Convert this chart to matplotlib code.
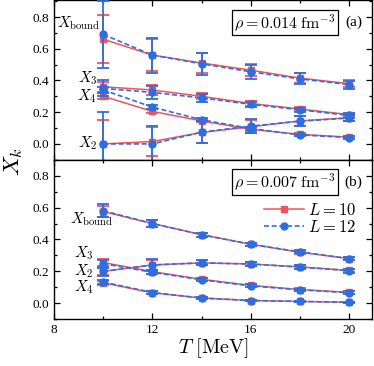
import matplotlib
matplotlib.use("Agg")
import matplotlib.pyplot as plt
from matplotlib.ticker import MultipleLocator

plt.rcParams['font.family'] = ['Liberation Serif', 'DejaVu Serif']
plt.rcParams['mathtext.fontset'] = 'cm'

T = [10, 12, 14, 16, 18, 20]

# panel (a): rho = 0.014 fm^-3
a_bound_10 = [0.66, 0.56, 0.51, 0.465, 0.415, 0.38]
a_bound_10_err = [0.15, 0.10, 0.06, 0.04, 0.03, 0.02]
a_bound_12 = [0.69, 0.56, 0.505, 0.455, 0.41, 0.374]
a_bound_12_err = [0.21, 0.11, 0.07, 0.045, 0.035, 0.025]
a_x3_10 = [0.36, 0.34, 0.30, 0.255, 0.22, 0.185]
a_x3_10_err = [0.03, 0.03, 0.02, 0.015, 0.012, 0.012]
a_x3_12 = [0.35, 0.325, 0.29, 0.25, 0.215, 0.18]
a_x3_12_err = [0.05, 0.04, 0.025, 0.015, 0.012, 0.015]
a_x4_10 = [0.30, 0.205, 0.145, 0.092, 0.06, 0.043]
a_x4_10_err = [0.02, 0.012, 0.01, 0.01, 0.008, 0.008]
a_x4_12 = [0.34, 0.232, 0.152, 0.097, 0.057, 0.04]
a_x4_12_err = [0.02, 0.012, 0.01, 0.01, 0.008, 0.008]
a_x2_10 = [0.0, 0.015, 0.072, 0.108, 0.145, 0.165]
a_x2_10_err = [0.15, 0.09, 0.065, 0.04, 0.03, 0.02]
a_x2_12 = [0.0, 0.0, 0.074, 0.112, 0.143, 0.163]
a_x2_12_err = [0.20, 0.11, 0.07, 0.045, 0.03, 0.02]

# panel (b): rho = 0.007 fm^-3
b_bound_10 = [0.575, 0.50, 0.43, 0.37, 0.32, 0.28]
b_bound_10_err = [0.035, 0.02, 0.012, 0.01, 0.01, 0.01]
b_bound_12 = [0.58, 0.50, 0.43, 0.37, 0.322, 0.28]
b_bound_12_err = [0.04, 0.022, 0.012, 0.01, 0.01, 0.01]
b_x3_10 = [0.255, 0.198, 0.15, 0.112, 0.086, 0.068]
b_x3_10_err = [0.02, 0.012, 0.01, 0.01, 0.008, 0.008]
b_x3_12 = [0.248, 0.194, 0.147, 0.109, 0.084, 0.066]
b_x3_12_err = [0.025, 0.012, 0.01, 0.01, 0.008, 0.008]
b_x2_10 = [0.20, 0.24, 0.253, 0.246, 0.228, 0.206]
b_x2_10_err = [0.02, 0.03, 0.015, 0.012, 0.012, 0.01]
b_x2_12 = [0.20, 0.24, 0.253, 0.246, 0.227, 0.204]
b_x2_12_err = [0.03, 0.035, 0.015, 0.012, 0.012, 0.012]
b_x4_10 = [0.128, 0.065, 0.033, 0.017, 0.011, 0.006]
b_x4_10_err = [0.012, 0.01, 0.006, 0.005, 0.004, 0.004]
b_x4_12 = [0.133, 0.067, 0.032, 0.017, 0.011, 0.006]
b_x4_12_err = [0.012, 0.01, 0.006, 0.005, 0.004, 0.004]

red = '#f2535b'
blue = '#2d6fe0'

fig, (ax1, ax2) = plt.subplots(2, 1, sharex=True, figsize=(3.74, 3.66), dpi=100)
fig.subplots_adjust(left=0.145, right=0.995, top=0.999, bottom=0.128, hspace=0)


def pair(ax, y10, e10, y12, e12):
  r = ax.errorbar(T, y10, yerr=e10, color=red, marker='s', ms=4, lw=1.1,
                  elinewidth=1.3, capsize=4.5, capthick=1.3, zorder=2)
  b = ax.errorbar(T, y12, yerr=e12, color=blue, marker='o', ms=5, lw=1.2,
                  ls=(0, (3, 1.6)), elinewidth=1.3, capsize=4.5, capthick=1.3,
                  zorder=3)
  return r, b


pair(ax1, a_bound_10, a_bound_10_err, a_bound_12, a_bound_12_err)
pair(ax1, a_x3_10, a_x3_10_err, a_x3_12, a_x3_12_err)
pair(ax1, a_x4_10, a_x4_10_err, a_x4_12, a_x4_12_err)
pair(ax1, a_x2_10, a_x2_10_err, a_x2_12, a_x2_12_err)

pair(ax2, b_bound_10, b_bound_10_err, b_bound_12, b_bound_12_err)
pair(ax2, b_x3_10, b_x3_10_err, b_x3_12, b_x3_12_err)
pair(ax2, b_x2_10, b_x2_10_err, b_x2_12, b_x2_12_err)
r, b = pair(ax2, b_x4_10, b_x4_10_err, b_x4_12, b_x4_12_err)

lab = 11
ax1.text(9.9, 0.76, r'$X_{\rm bound}$', fontsize=lab, ha='right', va='center')
ax1.text(9.75, 0.415, r'$X_3$', fontsize=lab, ha='right', va='center')
ax1.text(9.75, 0.30, r'$X_4$', fontsize=lab, ha='right', va='center')
ax1.text(9.75, 0.005, r'$X_2$', fontsize=lab, ha='right', va='center')

ax2.text(10.4, 0.525, r'$X_{\rm bound}$', fontsize=lab, ha='right', va='center')
ax2.text(9.6, 0.315, r'$X_3$', fontsize=lab, ha='right', va='center')
ax2.text(9.6, 0.20, r'$X_2$', fontsize=lab, ha='right', va='center')
ax2.text(9.6, 0.10, r'$X_4$', fontsize=lab, ha='right', va='center')

box = dict(boxstyle='square,pad=0.15', fc='white', ec='black', lw=0.9)
ax1.text(0.885, 0.86, r'$\rho=0.014\;\mathrm{fm}^{-3}$', transform=ax1.transAxes,
         fontsize=11.5, ha='right', va='center', bbox=box)
ax1.text(0.97, 0.86, '(a)', transform=ax1.transAxes, fontsize=11,
         ha='right', va='center')
ax2.text(0.885, 0.86, r'$\rho=0.007\;\mathrm{fm}^{-3}$', transform=ax2.transAxes,
         fontsize=11.5, ha='right', va='center', bbox=box)
ax2.text(0.97, 0.86, '(b)', transform=ax2.transAxes, fontsize=11,
         ha='right', va='center')

ax2.legend([r[0], b[0]], [r'$L=10$', r'$L=12$'], loc='upper right',
           bbox_to_anchor=(0.97, 0.77), frameon=False, fontsize=12,
           handlelength=2.4, handletextpad=0.2, labelspacing=0.05,
           borderaxespad=0)

for ax in (ax1, ax2):
  ax.set_xlim(8, 20.95)
  ax.set_ylim(-0.1, 0.905)
  ax.xaxis.set_major_locator(MultipleLocator(4))
  ax.xaxis.set_minor_locator(MultipleLocator(2))
  ax.yaxis.set_major_locator(MultipleLocator(0.2))
  ax.yaxis.set_minor_locator(MultipleLocator(0.1))
  ax.tick_params(which='both', direction='in', top=True, right=True,
                 labelsize=9.5, width=0.9)
  ax.tick_params(which='major', length=4.5)
  ax.tick_params(which='minor', length=2.5)
  ax.yaxis.set_major_formatter(matplotlib.ticker.FormatStrFormatter('%.1f'))
  for s in ax.spines.values():
    s.set_linewidth(1.0)

ax2.set_ylim(-0.1, 0.9)
ax2.set_xlabel(r'$T\ [\mathrm{MeV}]$', fontsize=14.5, labelpad=0)
fig.text(0.035, 0.56, r'$X_k$', rotation=90, fontsize=16.5, ha='center', va='center')

fig.savefig('out.png', dpi=100)
